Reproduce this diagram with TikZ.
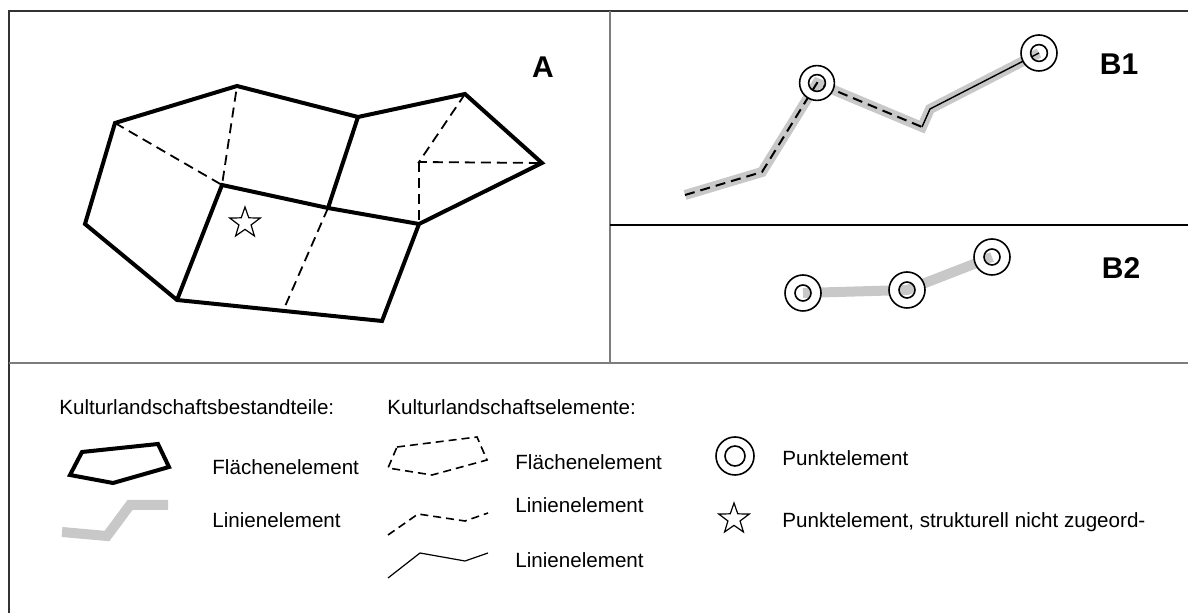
\documentclass[tikz,border=0pt]{standalone}
\usepackage{fontspec}
\setmainfont{Liberation Sans}
\usepackage{xcolor}
\usetikzlibrary{shapes.geometric}
\definecolor{bandgray}{RGB}{200,200,200}
\definecolor{framegray}{RGB}{125,125,125}
\tikzstyle{arealine}=[line width=2pt]
\tikzstyle{dashline}=[line width=0.9pt, dash pattern=on 5pt off 3pt]
\tikzstyle{thinline}=[line width=0.7pt]
\tikzstyle{band}=[bandgray, line width=5pt]
\tikzstyle{legendtext}=[anchor=west, inner sep=0pt, font=\fontsize{10.3}{12}\selectfont]
\tikzstyle{panellabel}=[inner sep=0pt, font=\fontsize{15}{18}\selectfont\bfseries]
\tikzstyle{starmark}=[star, star points=5, star point ratio=2.5, draw, line width=0.6pt, minimum size=16pt, inner sep=0pt]
% double circle for a point element: white ring, open centre
\newcommand{\pointmark}[3]{%
	\fill[white, even odd rule] (#1) circle (#2) (#1) circle (#3);
	\draw[line width=0.8pt] (#1) circle (#2) (#1) circle (#3);}

\begin{document}
\begin{tikzpicture}[x=0.5pt, y=-0.5pt]
	\useasboundingbox (0,0) rectangle (1188,613);

	% frame and panel dividers
	\draw[line width=1pt, black!80] (9,613) -- (9,11) -- (1188,11);
	\draw[framegray, line width=1.2pt] (610,11) -- (610,363);
	\draw[framegray, line width=1.2pt] (9,363) -- (1188,363);
	\draw[line width=0.6pt] (610,225) -- (1188,225);

	% panel A
	\coordinate (a1) at (115,123);
	\coordinate (a2) at (237,86);
	\coordinate (a3) at (358,117);
	\coordinate (a4) at (465,94);
	\coordinate (a5) at (542,163);
	\coordinate (a6) at (419,224);
	\coordinate (a7) at (382,321);
	\coordinate (a8) at (177,300);
	\coordinate (a9) at (85,224);
	\coordinate (q1) at (222,185);
	\coordinate (q2) at (328,208);
	\coordinate (r1) at (419,162);
	\coordinate (s1) at (283,311);
	\draw[dashline] (a1) -- (q1) -- (a2);
	\draw[dashline] (q2) -- (s1);
	\draw[dashline] (a4) -- (r1) -- (a5);
	\draw[dashline] (r1) -- (a6);
	\draw[arealine] (a1) -- (a2) -- (a3) -- (a4) -- (a5) -- (a6) -- (a7) -- (a8) -- (a9) -- cycle;
	\draw[arealine] (a8) -- (q1) -- (q2) -- (a6);
	\draw[arealine] (a3) -- (q2);
	\node[starmark] (star-a) at (245,223) {};
	\node[panellabel] (label-a) at (543,67) {A};

	% panel B1
	\coordinate (b1) at (685,195);
	\coordinate (b2) at (762,172);
	\coordinate (b3) at (817,83);
	\coordinate (b4) at (922,127);
	\coordinate (b5) at (930,109);
	\coordinate (b6) at (1039,53);
	\draw[band] (b1) -- (b2) -- (b3) -- (b4) -- (b5) -- (b6);
	\draw[dashline, line width=1pt] (b1) -- (b2) -- (b3) -- (b4);
	\draw[thinline] (b4) -- (b5) -- (b6);
	\pointmark{b3}{8.7pt}{4.2pt}
	\pointmark{b6}{9pt}{4.2pt}
	\node[panellabel] (label-b1) at (1119,64) {B1};

	% panel B2
	\coordinate (c1) at (803,293);
	\coordinate (c2) at (907,290);
	\coordinate (c3) at (992,257);
	\draw[band] (c1) -- (c2) -- (c3);
	\pointmark{c1}{9pt}{4pt}
	\pointmark{c2}{9pt}{4pt}
	\pointmark{c3}{9pt}{4pt}
	\node[panellabel] (label-b2) at (1121,268) {B2};

	% legend
	\node[legendtext] (head-parts) at (59,407) {Kulturlandschaftsbestandteile:};
	\node[legendtext] (head-elems) at (387,407) {Kulturlandschaftselemente:};

	\draw[arealine] (82,452) -- (158,444) -- (169,467) -- (113,483) -- (70,475) -- cycle;
	\node[legendtext] (leg-area) at (212,467) {Flächenelement};
	\draw[band] (62,532) -- (107,536) -- (130,505) -- (168,505);
	\node[legendtext] (leg-band) at (212,520) {Linienelement};

	\draw[dashline, line width=0.8pt, dash pattern=on 4pt off 2.5pt] (397,447) -- (477,437) -- (487,460) -- (432,475) -- (388,468) -- cycle;
	\node[legendtext] (leg-darea) at (515,462) {Flächenelement};
	\draw[dashline, line width=0.8pt, dash pattern=on 4pt off 2.5pt] (388,535) -- (418,514) -- (465,521) -- (488,513);
	\node[legendtext] (leg-dline) at (515,505) {Linienelement};
	\draw[thinline, line width=0.6pt] (388,578) -- (420,553) -- (465,561) -- (488,553);
	\node[legendtext] (leg-sline) at (515,560) {Linienelement};

	\coordinate (p1) at (735,456);
	\pointmark{p1}{9.5pt}{5pt}
	\node[legendtext] (leg-point) at (782,458) {Punktelement};
	\node[starmark] (star-leg) at (734,519) {};
	\node[legendtext] (leg-star) at (782,522) {Punktelement, strukturell nicht zugeord-};
\end{tikzpicture}
\end{document}
